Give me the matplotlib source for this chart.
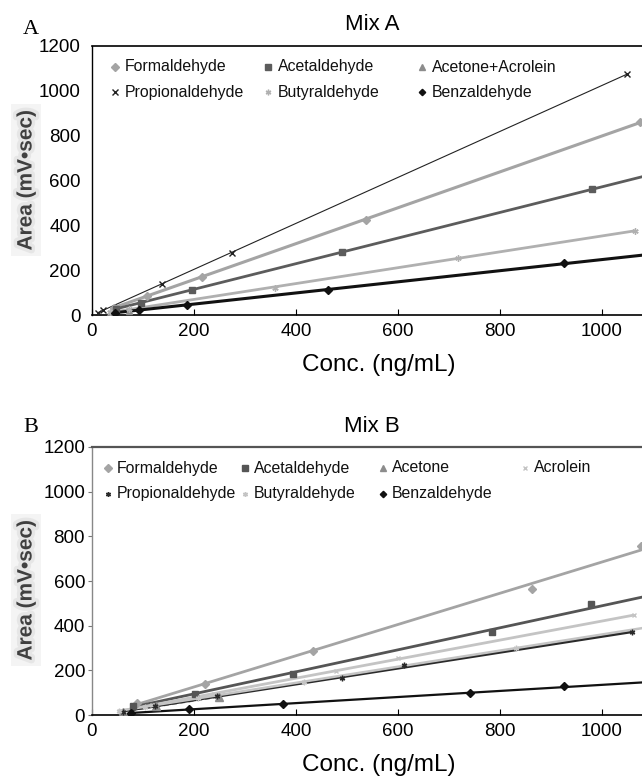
import numpy as np
import matplotlib
matplotlib.use("Agg")
import matplotlib.pyplot as plt
from matplotlib.lines import Line2D
import matplotlib.patheffects as pe

plt.rcParams['font.family'] = ['Liberation Sans', 'DejaVu Sans']

# ---- Mix A calibration data (conc in ng/mL, peak area in mV*sec) ----
a_names = ["Formaldehyde", "Acetaldehyde", "Acetone+Acrolein",
           "Propionaldehyde", "Butyraldehyde", "Benzaldehyde"]
a_conc = {
    "Formaldehyde":     [43, 108, 215, 537, 1075],
    "Acetaldehyde":     [48, 96, 197, 490, 980, 1960],
    "Acetone+Acrolein": [36, 72],
    "Propionaldehyde":  [11, 22, 137, 275, 1050],
    "Butyraldehyde":    [36, 72, 358, 717, 1065],
    "Benzaldehyde":     [46, 93, 187, 462, 926, 1850],
}
a_area = {
    "Formaldehyde":     [33, 86, 170, 425, 860],
    "Acetaldehyde":     [27, 55, 113, 282, 560, 1120],
    "Acetone+Acrolein": [8, 20],
    "Propionaldehyde":  [11, 23, 138, 278, 1076],
    "Butyraldehyde":    [12, 25, 122, 255, 375],
    "Benzaldehyde":     [11, 22, 45, 113, 230, 458],
}

# ---- Mix B calibration data ----
b_names = ["Formaldehyde", "Acetaldehyde", "Acetone", "Acrolein",
           "Propionaldehyde", "Butyraldehyde", "Benzaldehyde"]
b_conc = {
    "Formaldehyde":    [88, 221, 434, 862, 1077],
    "Acetaldehyde":    [80, 201, 394, 784, 978, 1960],
    "Acetone":         [60, 125, 250],
    "Acrolein":        [55, 118, 240, 478, 600, 1062],
    "Propionaldehyde": [60, 123, 245, 490, 612, 1059],
    "Butyraldehyde":   [52, 104, 208, 416, 832, 1664],
    "Benzaldehyde":    [77, 190, 374, 741, 926, 1850],
}
b_area = {
    "Formaldehyde":    [55, 140, 285, 566, 758],
    "Acetaldehyde":    [42, 92, 185, 370, 495, 960],
    "Acetone":         [12, 40, 80],
    "Acrolein":        [18, 45, 95, 195, 255, 446],
    "Propionaldehyde": [15, 40, 85, 165, 222, 370],
    "Butyraldehyde":   [18, 37, 75, 150, 300, 600],
    "Benzaldehyde":    [8, 25, 50, 98, 128, 250],
}

x_ticks = [0, 200, 400, 600, 800, 1000]
y_ticks = [0, 200, 400, 600, 800, 1000, 1200]

# marker / colour / trendline style per compound
style_a = {
    "Formaldehyde":     dict(marker="D", ms=4.0, color="#a4a4a4", lw=2.2, ls="-"),
    "Acetaldehyde":     dict(marker="s", ms=5.0, color="#5c5c5c", lw=2.0, ls="-"),
    "Acetone+Acrolein": dict(marker="^", ms=5.0, color="#8c8c8c", lw=1.5, ls="-"),
    "Propionaldehyde":  dict(marker="x", ms=4.5, color="#222222", lw=0.8, ls="-"),
    "Butyraldehyde":    dict(marker=(6, 2, 0), ms=4.5, color="#b0b0b0", lw=2.0, ls="-"),
    "Benzaldehyde":     dict(marker="D", ms=3.6, color="#111111", lw=2.2, ls="-"),
}
style_b = {
    "Formaldehyde":    dict(marker="D", ms=4.2, color="#a4a4a4", lw=2.0, ls="-"),
    "Acetaldehyde":    dict(marker="s", ms=5.0, color="#555555", lw=2.0, ls="-"),
    "Acetone":         dict(marker="^", ms=5.5, color="#8c8c8c", lw=1.2, ls=(0, (3, 2))),
    "Acrolein":        dict(marker="x", ms=3.5, color="#c4c4c4", lw=2.0, ls="-"),
    "Propionaldehyde": dict(marker=(6, 2, 0), ms=4, color="#2a2a2a", lw=2.0, ls="-"),
    "Butyraldehyde":   dict(marker=(6, 2, 0), ms=4, color="#c4c4c4", lw=1.8, ls="-"),
    "Benzaldehyde":    dict(marker="D", ms=3.6, color="#111111", lw=1.6, ls="-"),
}

W, H = 642, 776
fig = plt.figure(figsize=(W / 100, H / 100), dpi=100)
fig.patch.set_facecolor("white")


def fx(x):
    return x / W


def fy(y):
    return 1 - y / H


def px(x0, y_top, x1, y_bot):
    return [fx(x0), fy(y_bot), (x1 - x0) / W, (y_bot - y_top) / H]


def legend_grid(entries, styles, col_x, row_y, text_dx):
    """Marker-and-label key laid out on a fixed grid, row by row."""
    ncol = len(col_x)
    for i, name in enumerate(entries):
        r, c = divmod(i, ncol)
        st = styles[name]
        x, y = col_x[c], row_y[r]
        fig.add_artist(Line2D([fx(x)], [fy(y)], transform=fig.transFigure,
                              ls="none", marker=st["marker"],
                              ms=st["ms"] * 0.9, color=st["color"],
                              mec=st["color"], mew=1.0))
        fig.text(fx(x + text_dx), fy(y), name, ha="left", va="center",
                 fontsize=11.4, color="#111111")


def panel(rect, names, conc, area, styles, title, letter, title_y, letter_y,
          xlabel_y, ylabel_y, b_style):
    ax = fig.add_axes(rect)
    for n in names:
        st = styles[n]
        x = np.asarray(conc[n], float)
        y = np.asarray(area[n], float)
        k, b = np.polyfit(x, y, 1)
        xs = np.array([x.min(), x.max()])
        ax.plot(xs, k * xs + b, color=st["color"], lw=st["lw"], ls=st["ls"],
                zorder=2, solid_capstyle="butt")
        ax.plot(x, y, ls="none", marker=st["marker"], ms=st["ms"],
                color=st["color"], mec=st["color"], mew=1.0, zorder=3)
    ax.set_xlim(0, 1104)
    ax.set_ylim(0, 1200)
    ax.set_xticks(x_ticks)
    ax.set_yticks(y_ticks)
    ax.tick_params(axis="x", direction="in", length=4, width=0.8,
                   labelsize=13.5, pad=6)
    if b_style:
        ax.tick_params(axis="y", direction="out", length=3, width=0.8,
                       labelsize=13.5, pad=2, color="#777777")
        ax.spines["left"].set_color("#888888")
        ax.spines["top"].set_color("#555555")
        ax.spines["top"].set_linewidth(1.6)
    else:
        ax.tick_params(axis="y", length=0, labelsize=13.5, pad=8)
        ax.spines["top"].set_linewidth(1.2)
    ax.spines["right"].set_visible(False)
    ax.spines["bottom"].set_linewidth(1.2)
    ax.spines["left"].set_linewidth(1.0)

    fig.text(fx(372), fy(title_y), title, ha="center", va="center",
             fontsize=16)
    fig.text(fx(31), fy(letter_y), letter, ha="center", va="center",
             fontsize=16, family=["Liberation Serif", "DejaVu Serif"])
    fig.text(fx(379), fy(xlabel_y), "Conc. (ng/mL)", ha="center",
             va="center", fontsize=17.5)
    fig.text(fx(26), fy(ylabel_y), "Area (mV\u2022sec)", ha="center",
             va="center", rotation=90, fontsize=15, color="#404040",
             fontweight="bold",
             path_effects=[pe.withStroke(linewidth=5, foreground="#e6e6e6")],
             bbox=dict(boxstyle="square,pad=0.25", fc="#f4f4f4", ec="none"))
    return ax


panel(px(92, 46, 655, 315), a_names, a_conc, a_area, style_a,
      "Mix A", "A", 25, 29, 365, 180, False)
legend_grid(["Formaldehyde", "Acetaldehyde", "Acetone+Acrolein",
             "Propionaldehyde", "Butyraldehyde", "Benzaldehyde"],
            style_a, [115, 268, 422], [67, 92], 10)

panel(px(92, 447, 655, 715), b_names, b_conc, b_area, style_b,
      "Mix B", "B", 426, 427, 765, 590, True)
legend_grid(["Formaldehyde", "Acetaldehyde", "Acetone", "Acrolein",
             "Propionaldehyde", "Butyraldehyde", "Benzaldehyde"],
            style_b, [108, 245, 383, 525], [468, 494], 9)

fig.savefig("out.png", dpi=100, facecolor="white")
